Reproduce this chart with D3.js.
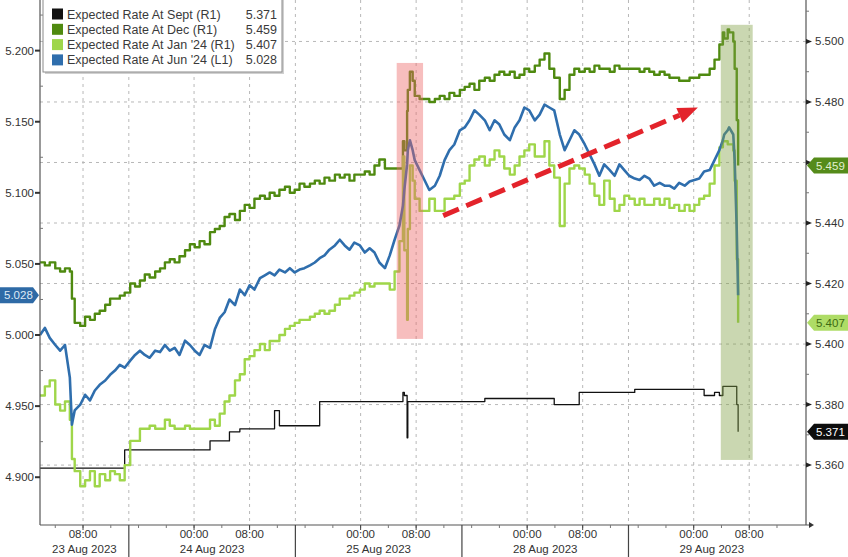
<!DOCTYPE html>
<html><head><meta charset="utf-8">
<script src="https://cdn.jsdelivr.net/npm/d3@7/dist/d3.min.js"></script>
<style>body{margin:0;background:#fff;} svg{display:block;font-family:"Liberation Sans",Arial,sans-serif;}</style>
</head><body><svg id="c" width="848" height="557"></svg>
<script>
// time in trading hours since 23 Aug 2023 00:00 (weekend removed)
const hours = [
 1.8,2.5,3.2,4.0,4.7,5.4,6.1,
 6.4,
 6.8,7.6,8.3,9.0,9.7,10.4,11.2,11.9,12.6,13.3,
 14.0,14.8,15.5,16.2,16.9,17.6,18.4,19.1,19.8,20.5,
 21.2,21.9,22.7,23.4,24.1,24.8,25.5,26.3,27.0,27.7,
 28.4,29.1,29.9,30.6,31.3,32.0,32.7,33.5,34.2,34.9,
 35.6,36.3,37.1,37.8,38.5,39.2,39.9,40.7,41.4,42.1,
 42.8,43.5,44.3,45.0,45.7,46.4,47.1,47.9,48.6,49.3,
 50.0,50.7,51.5,52.2,52.9,53.6,
 54.1,54.3,54.7,54.8,55.1,55.5,
 55.8,56.5,57.2,57.9,58.7,59.4,60.1,60.8,61.5,62.3,
 63.0,63.7,64.4,65.1,65.9,66.6,67.3,68.0,68.7,69.5,
 70.2,70.9,71.6,72.3,73.1,73.8,74.5,75.2,75.9,76.7,
 77.4,78.1,78.8,79.5,80.3,81.0,81.7,82.4,83.1,83.9,
 84.6,85.3,86.0,86.7,87.5,88.2,88.9,89.6,90.3,91.1,
 91.8,92.5,93.2,93.9,94.7,95.4,96.1,96.8,97.5,98.3,
 99.0,99.7,
 100.2,100.4,100.9,101.1,101.7,101.9,102.2,102.4
];
const sept = [
 5.359,5.359,5.359,5.359,5.359,5.359,5.359,
 5.359,
 5.359,5.359,5.359,5.359,5.359,5.359,5.359,5.359,5.359,5.359,
 5.365,5.365,5.365,5.365,5.365,5.365,5.365,5.365,5.365,5.365,
 5.365,5.365,5.365,5.365,5.365,5.365,5.365,5.368,5.368,5.368,
 5.368,5.371,5.371,5.372,5.372,5.372,5.372,5.372,5.372,5.372,
 5.378,5.373,5.373,5.373,5.373,5.373,5.373,5.373,5.373,5.381,
 5.381,5.381,5.381,5.381,5.381,5.381,5.381,5.381,5.381,5.381,
 5.381,5.381,5.381,5.381,5.381,5.381,
 5.384,5.383,5.369,5.381,5.381,5.381,
 5.381,5.381,5.381,5.381,5.381,5.381,5.381,5.381,5.381,5.381,
 5.381,5.381,5.381,5.381,5.382,5.382,5.382,5.382,5.382,5.382,
 5.382,5.382,5.382,5.382,5.382,5.382,5.382,5.382,5.380,5.380,
 5.380,5.380,5.380,5.384,5.384,5.384,5.384,5.384,5.384,5.384,
 5.384,5.384,5.384,5.384,5.385,5.385,5.385,5.385,5.385,5.385,
 5.385,5.385,5.385,5.385,5.385,5.385,5.385,5.385,5.383,5.383,
 5.384,5.383,
 5.386,5.386,5.386,5.386,5.386,5.386,5.380,5.371
];
const dec = [
 5.427,5.426,5.427,5.425,5.424,5.425,5.424,
 5.415,
 5.407,5.406,5.409,5.408,5.410,5.411,5.413,5.415,5.415,5.416,
 5.417,5.420,5.419,5.421,5.423,5.422,5.424,5.425,5.427,5.428,
 5.427,5.429,5.431,5.433,5.432,5.434,5.433,5.437,5.438,5.439,
 5.442,5.443,5.441,5.444,5.446,5.445,5.448,5.449,5.448,5.450,
 5.449,5.451,5.452,5.450,5.451,5.453,5.452,5.453,5.454,5.453,
 5.455,5.454,5.456,5.455,5.456,5.454,5.456,5.456,5.457,5.456,
 5.459,5.461,5.458,5.458,5.458,5.458,
 5.467,5.464,5.477,5.484,5.490,5.487,
 5.482,5.481,5.481,5.480,5.481,5.482,5.481,5.483,5.482,5.484,
 5.485,5.486,5.484,5.487,5.488,5.487,5.489,5.490,5.489,5.490,
 5.488,5.489,5.491,5.490,5.492,5.494,5.496,5.491,5.488,5.481,
 5.484,5.489,5.491,5.490,5.491,5.490,5.492,5.491,5.491,5.490,
 5.492,5.491,5.491,5.491,5.491,5.490,5.491,5.490,5.489,5.490,
 5.489,5.488,5.488,5.487,5.487,5.488,5.488,5.489,5.489,5.491,
 5.494,5.499,
 5.503,5.501,5.504,5.503,5.500,5.491,5.474,5.459
];
const jan = [
 5.383,5.386,5.388,5.380,5.378,5.381,5.375,
 5.362,
 5.358,5.353,5.355,5.358,5.353,5.357,5.355,5.358,5.357,5.355,
 5.360,5.368,5.368,5.372,5.372,5.373,5.372,5.372,5.375,5.373,
 5.372,5.372,5.373,5.372,5.372,5.372,5.372,5.375,5.373,5.377,
 5.381,5.383,5.388,5.390,5.395,5.396,5.398,5.400,5.398,5.401,
 5.401,5.403,5.405,5.406,5.407,5.408,5.408,5.409,5.410,5.411,
 5.410,5.411,5.413,5.415,5.415,5.416,5.417,5.418,5.420,5.419,
 5.420,5.420,5.420,5.418,5.424,5.434,
 5.462,5.431,5.408,5.438,5.459,5.454,
 5.448,5.444,5.444,5.448,5.444,5.444,5.448,5.448,5.449,5.453,
 5.454,5.459,5.461,5.462,5.459,5.461,5.464,5.462,5.458,5.456,
 5.459,5.462,5.464,5.466,5.462,5.462,5.467,5.459,5.455,5.439,
 5.453,5.458,5.459,5.458,5.456,5.453,5.449,5.446,5.454,5.448,
 5.444,5.446,5.449,5.448,5.446,5.448,5.446,5.446,5.448,5.446,
 5.448,5.445,5.446,5.444,5.446,5.444,5.446,5.448,5.449,5.453,
 5.459,5.465,
 5.467,5.467,5.466,5.466,5.464,5.454,5.428,5.407
];
const jun = [
 5.000,5.005,4.998,4.993,4.989,4.993,4.970,
 4.937,
 4.947,4.951,4.958,4.954,4.961,4.965,4.968,4.972,4.975,4.979,
 4.977,4.982,4.986,4.989,4.986,4.984,4.989,4.988,4.993,4.989,
 4.991,4.986,4.996,4.993,4.989,4.986,4.993,4.991,5.004,5.012,
 5.016,5.025,5.021,5.032,5.028,5.035,5.032,5.040,5.042,5.044,
 5.042,5.046,5.044,5.047,5.044,5.046,5.047,5.049,5.051,5.054,
 5.056,5.060,5.063,5.067,5.063,5.060,5.065,5.063,5.058,5.061,
 5.058,5.051,5.047,5.056,5.067,5.077,
 5.091,5.102,5.120,5.130,5.137,5.130,
 5.123,5.116,5.109,5.102,5.105,5.112,5.123,5.130,5.134,5.144,
 5.146,5.151,5.158,5.155,5.151,5.144,5.151,5.148,5.141,5.137,
 5.146,5.151,5.160,5.158,5.151,5.155,5.162,5.160,5.158,5.141,
 5.130,5.137,5.144,5.141,5.134,5.127,5.120,5.112,5.120,5.116,
 5.112,5.120,5.116,5.112,5.110,5.109,5.112,5.110,5.105,5.107,
 5.105,5.105,5.103,5.107,5.105,5.108,5.109,5.110,5.115,5.116,
 5.123,5.130,
 5.137,5.141,5.144,5.146,5.141,5.123,5.074,5.028
];
const seriesNames = ["Expected Rate At Sept (R1)","Expected Rate At Dec (R1)","Expected Rate At Jan '24 (R1)","Expected Rate At Jun '24 (L1)"];
const lastValues = [5.371, 5.459, 5.407, 5.028];
const leftTicks = [4.900, 4.950, 5.000, 5.050, 5.100, 5.150, 5.200];
const rightTicks = [5.360, 5.380, 5.400, 5.420, 5.440, 5.460, 5.480, 5.500];
const hiddenRightLabels = [5.460]; // covered by the last-value tag in the reference
const timeTicks = [8, 24, 32, 48, 56, 72, 80, 96, 104];
const timeTickLabels = ["08:00","00:00","08:00","00:00","08:00","00:00","08:00","00:00","08:00"];
const sessionBounds = [14.6, 38.6, 62.6, 86.6, 110.6];
const dayLabels = ["23 Aug 2023","24 Aug 2023","25 Aug 2023","28 Aug 2023","29 Aug 2023"];
// annotations (data units)
const pinkSpan = {t0: 53.2, t1: 57.0, v0: 5.4017, v1: 5.4929};
const greenSpan = {t0: 99.9, t1: 104.5, v0: 5.3617, v1: 5.5055};
const trendArrow = {t0: 59.9, v0: 5.084, t1: 96.6, v1: 5.160};

const colors = {sept:"#111111", dec:"#4f8a10", jan:"#9fd64a", jun:"#2f6ead"};

const svg = d3.select("#c");
const L = 40, R = 806, T = 0, B = 525;
const x = d3.scaleLinear().domain([1.8, 112.18]).range([L, R]);
const yL = d3.scaleLinear().domain([4.8664, 5.2356]).range([B, T]);
const yR = d3.scaleLinear().domain([5.3402, 5.5137]).range([B, T]);

svg.append("defs").append("clipPath").attr("id","clip").append("rect")
  .attr("x",L).attr("y",T).attr("width",R-L).attr("height",B-T);

// grid
const grid = svg.append("g").attr("stroke","#b8b8b8").attr("stroke-dasharray","3,4").attr("stroke-width",1);
rightTicks.forEach(v => grid.append("line").attr("x1",L).attr("x2",R).attr("y1",yR(v)).attr("y2",yR(v)));
timeTicks.concat(sessionBounds.slice(0,4)).forEach(t => grid.append("line").attr("x1",x(t)).attr("x2",x(t)).attr("y1",T).attr("y2",B));

// lines
const plot = svg.append("g").attr("clip-path","url(#clip)");
function series(vals, scale, color, width, curve){
  const pts = hours.map((h,i)=>[h, vals[i]]);
  plot.append("path").datum(pts)
    .attr("fill","none").attr("stroke",color).attr("stroke-width",width).attr("stroke-linejoin","round")
    .attr("d", d3.line().x(d=>x(d[0])).y(d=>scale(d[1])).curve(curve));
}
series(sept, yR, colors.sept, 1.3, d3.curveStepAfter);
series(dec, yR, colors.dec, 2.4, d3.curveStepAfter);
series(jan, yR, colors.jan, 2.4, d3.curveStepAfter);
series(jun, yL, colors.jun, 2.6, d3.curveLinear);

// highlight spans
svg.append("rect").attr("x",x(pinkSpan.t0)).attr("width",x(pinkSpan.t1)-x(pinkSpan.t0))
  .attr("y",yR(pinkSpan.v1)).attr("height",yR(pinkSpan.v0)-yR(pinkSpan.v1))
  .attr("fill","rgb(236,100,100)").attr("opacity",0.42);
svg.append("rect").attr("x",x(greenSpan.t0)).attr("width",x(greenSpan.t1)-x(greenSpan.t0))
  .attr("y",yR(greenSpan.v1)).attr("height",yR(greenSpan.v0)-yR(greenSpan.v1))
  .attr("fill","rgb(128,160,68)").attr("opacity",0.42);

// trend arrow
(function(){
  const x0 = x(trendArrow.t0), y0 = yL(trendArrow.v0), x1 = x(trendArrow.t1), y1 = yL(trendArrow.v1);
  const dx = x1-x0, dy = y1-y0, len = Math.hypot(dx,dy), ux = dx/len, uy = dy/len;
  const hl = 20, hw = 8;
  const bx = x1 - ux*hl, by = y1 - uy*hl;
  svg.append("line").attr("x1",x0).attr("y1",y0).attr("x2",bx).attr("y2",by)
    .attr("stroke","#e3232b").attr("stroke-width",5).attr("stroke-dasharray","17,8");
  svg.append("path").attr("fill","#e3232b")
    .attr("d",`M${x1},${y1}L${bx - uy*hw},${by + ux*hw}L${bx + uy*hw},${by - ux*hw}Z`);
})();

// axes
const ax = svg.append("g").attr("stroke","#555").attr("stroke-width",1.2);
ax.append("line").attr("x1",L).attr("x2",L).attr("y1",T).attr("y2",B);
ax.append("line").attr("x1",R).attr("x2",R).attr("y1",T).attr("y2",B);
ax.append("line").attr("x1",L).attr("x2",R+3).attr("y1",B).attr("y2",B);
svg.append("path").attr("d",`M${R+3},${B-3}L${R+8},${B}L${R+3},${B+3}Z`).attr("fill","#333");

// left ticks
leftTicks.forEach(v=>{
  const y = yL(v);
  svg.append("line").attr("x1",L-5).attr("x2",L).attr("y1",y).attr("y2",y).attr("stroke","#333").attr("stroke-width",2);
  svg.append("text").attr("x",L-6).attr("y",y+4).attr("text-anchor","end").attr("font-size",11.5).attr("fill","#333").text(v.toFixed(3));
});
leftTicks.forEach(v=>{
  const y = yL(v+0.025);
  if (y>T) svg.append("line").attr("x1",L).attr("x2",L+3).attr("y1",y).attr("y2",y).attr("stroke","#777");
});
// right ticks
rightTicks.forEach(v=>{
  const y = yR(v);
  svg.append("path").attr("d",`M${R},${y-2.5}L${R+6},${y}L${R},${y+2.5}Z`).attr("fill","#222");
  if (!hiddenRightLabels.includes(v))
    svg.append("text").attr("x",R+9).attr("y",y+4).attr("font-size",11.5).attr("fill","#333").text(v.toFixed(3));
});
rightTicks.forEach(v=>{
  const y = yR(v+0.01);
  if (y>T) svg.append("line").attr("x1",R).attr("x2",R+3).attr("y1",y).attr("y2",y).attr("stroke","#777");
});
// x ticks
d3.range(4, 112, 4).forEach(t=>{
  svg.append("line").attr("x1",x(t)).attr("x2",x(t)).attr("y1",B).attr("y2",B+3).attr("stroke","#777");
});
timeTicks.forEach((t,i)=>{
  svg.append("line").attr("x1",x(t)).attr("x2",x(t)).attr("y1",B).attr("y2",B+5).attr("stroke","#444");
  svg.append("text").attr("x",x(t)).attr("y",B+13).attr("text-anchor","middle").attr("font-size",11.5).attr("fill","#333").text(timeTickLabels[i]);
});
sessionBounds.slice(0,4).forEach(t=>{
  svg.append("line").attr("x1",x(t)).attr("x2",x(t)).attr("y1",B).attr("y2",557).attr("stroke","#444").attr("stroke-width",1.2);
});
dayLabels.forEach((d,i)=>{
  const a = i===0 ? L : x(sessionBounds[i-1]);
  const b = x(sessionBounds[i]);
  svg.append("text").attr("x",(a+b)/2).attr("y",B+28).attr("text-anchor","middle").attr("font-size",11.5).attr("fill","#333").text(d);
});

// legend
const lg = svg.append("g");
lg.append("rect").attr("x",45).attr("y",-1).attr("width",239).attr("height",75).attr("fill","#d0d0d0");
lg.append("rect").attr("x",43).attr("y",-3).attr("width",239).attr("height",75).attr("fill","#fff").attr("stroke","#8a8a8a");
const legendColors = [colors.sept, colors.dec, colors.jan, colors.jun];
seriesNames.forEach((n,i)=>{
  const cy = 14 + i*15.3;
  lg.append("rect").attr("x",52).attr("y",cy-5.5).attr("width",11).attr("height",11).attr("fill",legendColors[i]);
  lg.append("text").attr("x",67).attr("y",cy+4.5).attr("font-size",12.5).attr("fill","#3a3a3a").text(n);
  lg.append("text").attr("x",277).attr("y",cy+4.5).attr("text-anchor","end").attr("font-size",12.5).attr("fill","#3a3a3a").text(lastValues[i].toFixed(3));
});

// value tags
function rightTag(v, fill, tc){
  const y = yR(v);
  svg.append("path").attr("d",`M${R+1},${y}L${R+8},${y-8}L848,${y-8}L848,${y+8}L${R+8},${y+8}Z`).attr("fill",fill);
  svg.append("text").attr("x",R+10).attr("y",y+4).attr("font-size",11.5).attr("fill",tc).text(v.toFixed(3));
}
rightTag(lastValues[1], "#558b1a", "#e2f0cf");
rightTag(lastValues[2], "#aedc66", "#3d6b12");
rightTag(lastValues[0], "#0d0d0d", "#ffffff");
(function(){
  const v = lastValues[3], y = yL(v);
  svg.append("path").attr("d",`M0,${y-8}L33,${y-8}L${L-1},${y}L33,${y+8}L0,${y+8}Z`).attr("fill","#2e6aa6");
  svg.append("text").attr("x",4).attr("y",y+4).attr("font-size",11.5).attr("fill","#dde9f6").text(v.toFixed(3));
})();
</script></body></html>
